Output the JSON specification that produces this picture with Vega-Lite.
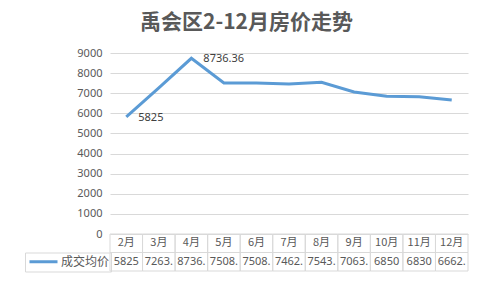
{
  "$schema": "https://vega.github.io/schema/vega-lite/v6.json",
  "padding": {"left": 24, "top": 12, "right": 16, "bottom": 17},
  "background": "white",
  "title": {"text": "禹会区2-12月房价走势", "fontSize": 21, "font": "Noto Sans CJK SC", "fontWeight": "bold", "color": "#595959", "anchor": "middle", "frame": "bounds", "offset": 14},
  "spacing": 0,
  "bounds": "flush",
  "config": {"view": {"stroke": null}, "font": "Noto Sans"},
  "datasets": {
    "main": [
      {"month": "2月", "value": 5825, "shown": "5825", "series": "成交均价"},
      {"month": "3月", "value": 7263.5, "shown": "7263.", "series": "成交均价"},
      {"month": "4月", "value": 8736.36, "shown": "8736.", "series": "成交均价"},
      {"month": "5月", "value": 7508.4, "shown": "7508.", "series": "成交均价"},
      {"month": "6月", "value": 7508.6, "shown": "7508.", "series": "成交均价"},
      {"month": "7月", "value": 7462.3, "shown": "7462.", "series": "成交均价"},
      {"month": "8月", "value": 7543.2, "shown": "7543.", "series": "成交均价"},
      {"month": "9月", "value": 7063.7, "shown": "7063.", "series": "成交均价"},
      {"month": "10月", "value": 6850, "shown": "6850", "series": "成交均价"},
      {"month": "11月", "value": 6830, "shown": "6830", "series": "成交均价"},
      {"month": "12月", "value": 6662.5, "shown": "6662.", "series": "成交均价"}
    ]
  },
  "vconcat": [
    {
      "width": 358,
      "height": 181,
      "data": {"name": "main"},
      "encoding": {
        "x": {"field": "month", "type": "nominal", "sort": null, "bandPosition": 0.5, "scale": {"type": "band", "paddingInner": 0, "paddingOuter": 0}, "axis": null},
        "y": {"field": "value", "type": "quantitative", "scale": {"domain": [0, 9000], "nice": false, "zero": true}, "axis": {"values": [0, 1000, 2000, 3000, 4000, 5000, 6000, 7000, 8000, 9000], "format": "d", "labelOverlap": false, "grid": true, "gridColor": "#D9D9D9", "domain": false, "ticks": false, "labelColor": "#595959", "labelFontSize": 11, "labelFont": "Noto Sans", "labelPadding": 8, "title": null}}
      },
      "layer": [
        {
          "mark": {"type": "line", "strokeWidth": 3},
          "encoding": {
            "color": {"field": "series", "type": "nominal", "scale": {"range": ["#5B9BD5"]}, "legend": {"title": null, "orient": "none", "legendX": -85, "legendY": 199.5, "symbolType": "stroke", "symbolSize": 784, "symbolStrokeWidth": 3, "symbolOffset": 2, "clipHeight": 16.5, "labelFont": "Noto Sans CJK SC", "labelFontSize": 12, "labelColor": "#595959", "labelOffset": 2, "strokeColor": "#D9D9D9", "padding": 1}}
          }
        },
        {
          "transform": [{"filter": "datum.month === '2月' || datum.month === '4月'"}],
          "mark": {"type": "text", "align": "left", "baseline": "middle", "dx": 12, "dy": 1, "fontSize": 11, "color": "#404040"},
          "encoding": {
            "text": {"field": "value", "type": "nominal"}
          }
        }
      ]
    },
    {
      "width": 358,
      "height": 37,
      "data": {"name": "main"},
      "encoding": {
        "x": {"field": "month", "type": "nominal", "sort": null, "scale": {"type": "band", "paddingInner": 0, "paddingOuter": 0}, "axis": null}
      },
      "layer": [
        {
          "mark": {"type": "rect", "fill": "white", "fillOpacity": 0, "stroke": "#D9D9D9", "strokeWidth": 1},
          "encoding": {"y": {"datum": "h", "type": "nominal", "scale": {"domain": ["h", "v"], "paddingInner": 0, "paddingOuter": 0}, "axis": null}}
        },
        {
          "mark": {"type": "rect", "fill": "white", "fillOpacity": 0, "stroke": "#D9D9D9", "strokeWidth": 1},
          "encoding": {"y": {"datum": "v", "type": "nominal"}}
        },
        {
          "mark": {"type": "text", "fontSize": 11, "font": "Noto Sans CJK SC", "color": "#595959", "baseline": "middle"},
          "encoding": {"y": {"datum": "h", "type": "nominal"}, "text": {"field": "month", "type": "nominal"}}
        },
        {
          "mark": {"type": "text", "fontSize": 11, "font": "Noto Sans", "color": "#595959", "baseline": "middle"},
          "encoding": {"y": {"datum": "v", "type": "nominal"}, "text": {"field": "shown", "type": "nominal"}}
        }
      ]
    }
  ]
}
